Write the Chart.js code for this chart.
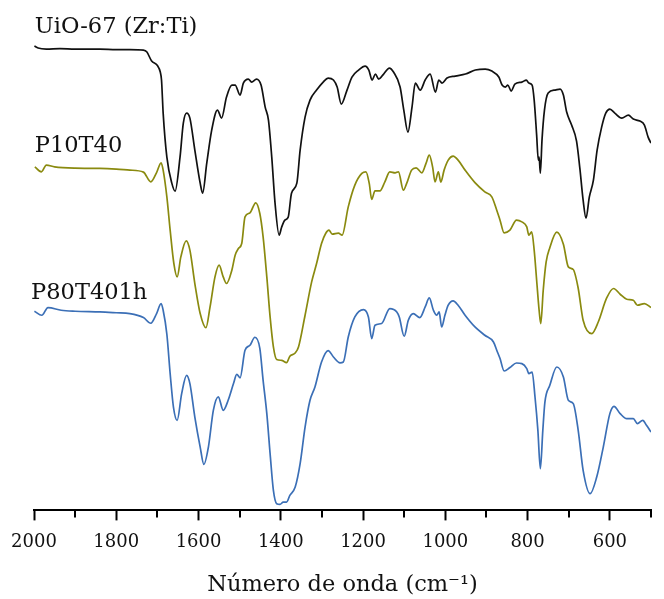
<!DOCTYPE html>
<html><head><meta charset="utf-8">
<script src="https://cdn.jsdelivr.net/npm/chart.js@4.4.1/dist/chart.umd.min.js"></script>
<style>html,body{margin:0;padding:0;background:#fff;overflow:hidden}</style>
</head><body>
<canvas id="c" width="664" height="599"></canvas>
<script>
const seriesNames = ['UiO-67 (Zr:Ti)', 'P10T40', 'P80T401h'];

const wnUiO = [1999,1990,1970,1937,1900,1840,1800,1767,1734,1726,1714,1700,1693,1690,1686,1677,1665,1657,1645,1637,1629,1621,1609,1596,1590,1580,1568,1554,1544,1532,1519,1511,1499,1491,1479,1471,1459,1448,1438,1430,1422,1414,1404,1398,1390,1382,1374,1361,1353,1341,1329,1313,1297,1285,1272,1263,1253,1239,1227,1211,1195,1186,1178,1170,1162,1150,1136,1126,1110,1101,1091,1081,1073,1061,1049,1037,1024,1016,1008,996,976,951,927,903,887,870,862,854,848,840,831,814,803,797,789,784,778,774,772,769,765,759,750,733,721,713,705,693,681,673,665,658,650,640,631,620,610,600,588,571,555,543,527,516,507,500];
const tUiO = [464,462,461,461.5,461,461,460.5,460.5,460,458.3,449,444.5,438,430,397,353,327,319,353,387,397,392,360,327,317,347,380,400,392,413,425,425,415,427,431,428,431,425,403,390,353,307,275,283,290,293,317,327,360,393,410,420,428,432,430,423,406,420,433,440,444,440,430,436,431,436,442,438,423,400,378,403,427,420,430,436,418,430,427,432,434,436,440,441,439,433,425,423,425,419,426,428,430,427,425,410,375,350,353,337,370,400,417,420,421,415,398,385,369,342,310,292,313,330,360,383,397,401,397,392,395,391,389,385,373,367];

const wnP10 = [1998,1982,1970,1950,1900,1840,1800,1767,1734,1716,1702,1691,1686,1677,1669,1660,1652,1643,1630,1621,1609,1596,1582,1572,1560,1550,1540,1532,1519,1511,1503,1495,1487,1475,1461,1451,1443,1434,1426,1418,1410,1398,1386,1378,1365,1357,1341,1325,1313,1301,1291,1283,1275,1260,1251,1236,1220,1203,1193,1185,1179,1171,1159,1147,1135,1122,1114,1102,1094,1082,1071,1057,1047,1039,1031,1025,1017,1011,1003,993,981,969,952,928,904,887,875,867,857,843,827,814,802,797,790,784,778,772,768,762,755,746,729,713,701,689,677,665,644,628,608,591,575,559,543,533,516,500];
const tP10 = [343.3,338.3,345,343.3,342,341.7,341,340,338,328.3,337.5,347.3,340,313.3,280,246.7,233.3,253.3,269.3,260,226.7,196.7,182.5,203.3,233.3,245,233.3,226.7,240,255,261.7,266.7,293.3,297.3,307.3,296.7,273.3,233.3,193.3,163.3,150.7,150,147.7,154,157.3,163.3,195,228.3,246.7,266.7,276.7,280,276,277,275,303.3,325,336.7,338.3,326.7,310.7,319.3,319.3,328.3,338.3,337.3,338.3,320,326.7,340,342.3,337.3,346.7,355,343.3,328.3,338.3,328,340,350,354,350,340,327.5,318.3,313.3,300,290,277.3,280,290,288.3,283.3,275,278.3,260,230,200,186.5,220,248,262.5,278,266,243.3,240.7,222,190,176.7,188.5,212,221.7,216,211,210,205,206.7,202.7];

const wnP80 = [1999,1981,1966,1934,1900,1840,1800,1767,1734,1716,1702,1691,1686,1677,1669,1661,1652,1641,1629,1621,1609,1596,1587,1576,1564,1552,1540,1528,1515,1507,1499,1487,1475,1463,1451,1443,1434,1426,1418,1410,1402,1394,1386,1378,1365,1353,1341,1329,1317,1301,1285,1272,1256,1248,1236,1220,1199,1187,1179,1171,1155,1135,1118,1112,1100,1090,1078,1062,1049,1039,1029,1021,1015,1009,1001,993,981,969,952,928,904,883,875,867,857,843,827,814,802,797,789,782,775,769,763,758,746,729,713,701,689,677,665,648,632,616,600,590,575,559,543,533,520,511,500];
const tP80 = [199,195,202.7,200,199,198.3,197.5,196.7,192.7,187,196.7,206.7,200,176,136.7,103.3,90,116.7,135,126.7,93.3,63.3,46,63.3,100,113.5,100,110,126.7,136,132.5,160,165,173,162,130,96.7,56.7,20,6.7,6,8.3,8.3,15,23.3,46.7,83.3,110,123.3,148.3,159.7,153.3,147.5,148.3,173.3,193.3,200.7,193.3,171.7,185,186.7,201.7,198.3,193.3,174,190,196.7,192.7,203.3,212.3,200,195,198.3,183.3,195,205,209.3,205,195,183.3,175,168.3,160,151.7,139.3,142.7,147.3,146.7,141.7,136.7,138.3,113.3,80,41.7,80,108,125,143.3,133.3,110,106.7,80,40,16.7,33.3,63.3,96.7,104,96.7,91.7,91.7,86.7,90,85,78.3];

const majorTicks = [2000,1800,1600,1400,1200,1000,800,600];
const minorTicks = [1900,1700,1500,1300,1100,900,700,500];
const xTitle = 'Número de onda (cm⁻¹)';
const colors = ['#111111', '#8a8a0f', '#3b6fb6'];

const FONT = "'DejaVu Serif', serif";
Chart.defaults.font.family = FONT;

function pts(xs, ys){ return xs.map((x,i)=>({x:x, y:ys[i]})); }

const labelPlugin = {
  id:'seriesLabels',
  afterDraw(chart){
    const {ctx, scales:{x, y}} = chart;
    ctx.save();
    ctx.font = "22.5px " + FONT;
    ctx.fillStyle = '#111';
    ctx.textBaseline = 'alphabetic';
    ctx.textAlign = 'left';
    const anchors = [[1998, 476.7],[1998, 358.3],[2007, 211.7]];
    seriesNames.forEach((n,i)=>{
      ctx.fillText(n, x.getPixelForValue(anchors[i][0]), y.getPixelForValue(anchors[i][1]));
    });
    // minor ticks
    ctx.strokeStyle = '#000';
    ctx.lineWidth = 2;
    minorTicks.forEach(v=>{
      const px = Math.round(x.getPixelForValue(v));
      ctx.beginPath();
      ctx.moveTo(px, x.top);
      ctx.lineTo(px, x.top + 7);
      ctx.stroke();
    });
    ctx.restore();
  }
};

const mk = (xs, ys, c) => ({
  data: pts(xs, ys), borderColor: c, backgroundColor: c, showLine: true,
  pointRadius: 0, borderWidth: 1.7, cubicInterpolationMode: 'monotone', fill: false
});

new Chart(document.getElementById('c').getContext('2d'), {
  type: 'scatter',
  data: { datasets: [ mk(wnUiO, tUiO, colors[0]), mk(wnP10, tP10, colors[1]), mk(wnP80, tP80, colors[2]) ] },
  options: {
    responsive: false, animation: false, devicePixelRatio: 1,
    layout: { padding: { left: 34, right: 13, top: 10, bottom: 0 } },
    plugins: { legend: { display: false }, tooltip: { enabled: false } },
    scales: {
      x: {
        type: 'linear', reverse: true, min: 500, max: 2000,
        afterBuildTicks: s => { s.ticks = majorTicks.map(v => ({ value: v })); },
        grid: { display: true, drawOnChartArea: false, drawTicks: true, tickLength: 10, tickColor: '#000', tickWidth: 2 },
        border: { display: true, color: '#000', width: 2 },
        ticks: { color: '#111', font: { size: 18 }, padding: 11, maxRotation: 0, autoSkip: false, callback: v => String(v) },
        title: { display: true, text: xTitle, color: '#111', font: { size: 22.5 }, padding: { top: 8, bottom: 0 } }
      },
      y: { display: false, min: 0, max: 500 }
    }
  },
  plugins: [labelPlugin]
});
</script>
</body></html>
